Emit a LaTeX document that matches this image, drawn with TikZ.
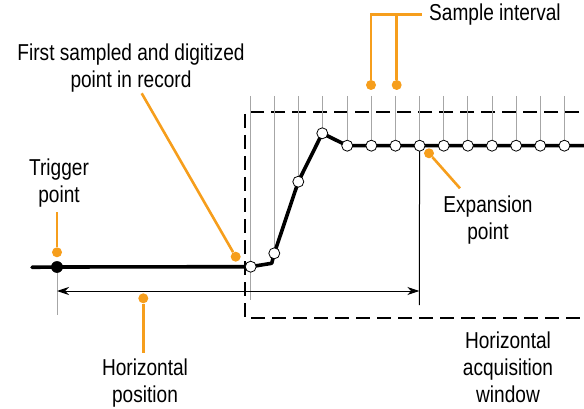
\documentclass[tikz,border=0pt]{standalone}
\usepackage{fontspec}
\setmainfont{Liberation Sans}[FakeStretch=0.83]
\usetikzlibrary{arrows.meta,calc}
\definecolor{tekorange}{RGB}{246,158,28}
\tikzset{
  sample/.style={
    shape = circle,
    draw,
    fill = white,
    inner sep = 0pt,
    minimum size = 11pt,
    line width = 0.8pt
  },
  trigdot/.style={
    shape = circle,
    fill = black,
    inner sep = 0pt,
    minimum size = 11.5pt
  },
  marker/.style={
    shape = circle,
    fill = tekorange,
    inner sep = 0pt,
    minimum size = 10pt
  },
  leader/.style={draw=tekorange, line width=2.6pt},
  gridline/.style={draw=gray!70, line width=0.8pt},
  trace/.style={line width=3.6pt, line join=round, line cap=round},
  window/.style={dash pattern=on 14pt off 7pt, line width=1.4pt},
  callout/.style={
    align = center,
    inner sep = 0pt,
    font = \fontsize{23}{27}\selectfont
  }
}

\begin{document}
\begin{tikzpicture}[x=1pt,y=-1pt]
    \useasboundingbox (0,0) rectangle (584,409);
    % acquisition window
    \draw[window] (600,112) -- (245,112) -- (245,318) -- (600,318);
    % sample positions
    \coordinate (gridtop) at (0,96);
    \coordinate (c1) at (250.7,266.7);
    \coordinate (c2) at (274.3,253.3);
    \coordinate (c3) at (298.3,181.7);
    \coordinate (c4) at (322.3,133.3);
    \foreach \i in {5,...,14}{
        \coordinate (c\i) at ({250.7+(\i-1)*24.13},145.7);
    }
    \foreach \i in {1,...,14}{
        \draw[gridline] (c\i |- gridtop) -- (c\i);
    }
    \coordinate (firstfoot) at (250.7,300);
    \draw[gridline] (c1) -- (firstfoot);
    % trigger and trace
    \node[trigdot] (trig) at (57,267) {};
    \coordinate (start) at (32,267.3);
    \coordinate (kink) at (271.7,263.3);
    \coordinate (end) at (600,145.7);
    \coordinate (trigfoot) at (57,315);
    \coordinate (expfoot) at (419.3,305);
    \draw[gridline] (trig) -- (trigfoot);
    \draw[line width=1pt] (c8) -- (expfoot);
    \draw[trace] (start) -- (trig.center) -- (c1) -- (kink)
        \foreach \i in {2,...,14}{ -- (c\i)} -- (end);
    \foreach \i in {1,...,14}{
        \node[sample] (s\i) at (c\i) {};
    }
    \node[trigdot] at (trig) {};
    % horizontal position
    \draw[{Stealth[length=12pt,width=8pt]}-{Stealth[length=12pt,width=8pt]}, line width=1pt]
        (trig |- 0,291) -- (expfoot |- 0,291);

    % callouts
    \node[callout] (trigtext) at (59,183) {Trigger\\point};
    \node[marker] (tm) at (57,252.3) {};
    \coordinate (tmtop) at (57,211.7);
    \draw[leader] (tm) -- (tmtop);

    \node[callout] (firsttext) at (131,68) {First sampled and digitized\\point in record};
    \node[marker] (fm) at (235.7,256.7) {};
    \coordinate (fmtop) at (141.7,93.3);
    \draw[leader] (fm) -- (fmtop);

    \node[callout, anchor=west] (inttext) at (429,15) {Sample interval};
    \node[marker] (im1) at (371,85) {};
    \node[marker] (im2) at (396.7,85) {};
    \coordinate (imtop) at (421.7,14.3);
    \draw[leader] (im1) |- (imtop);
    \draw[leader] (im2) -- (im2 |- imtop);

    \node[callout] (exptext) at (488,220) {Expansion\\point};
    \node[marker] (em) at (429,153.3) {};
    \coordinate (emfoot) at (460,188.3);
    \draw[leader] (em) -- (emfoot);

    \node[callout] (postext) at (145,383) {Horizontal\\position};
    \node[marker] (pm) at (143.3,298.3) {};
    \coordinate (pmfoot) at (143.3,353);
    \draw[leader] (pm) -- (pmfoot);

    \node[callout] (wintext) at (508,367) {Horizontal\\acquisition\\window};
\end{tikzpicture}
\end{document}
